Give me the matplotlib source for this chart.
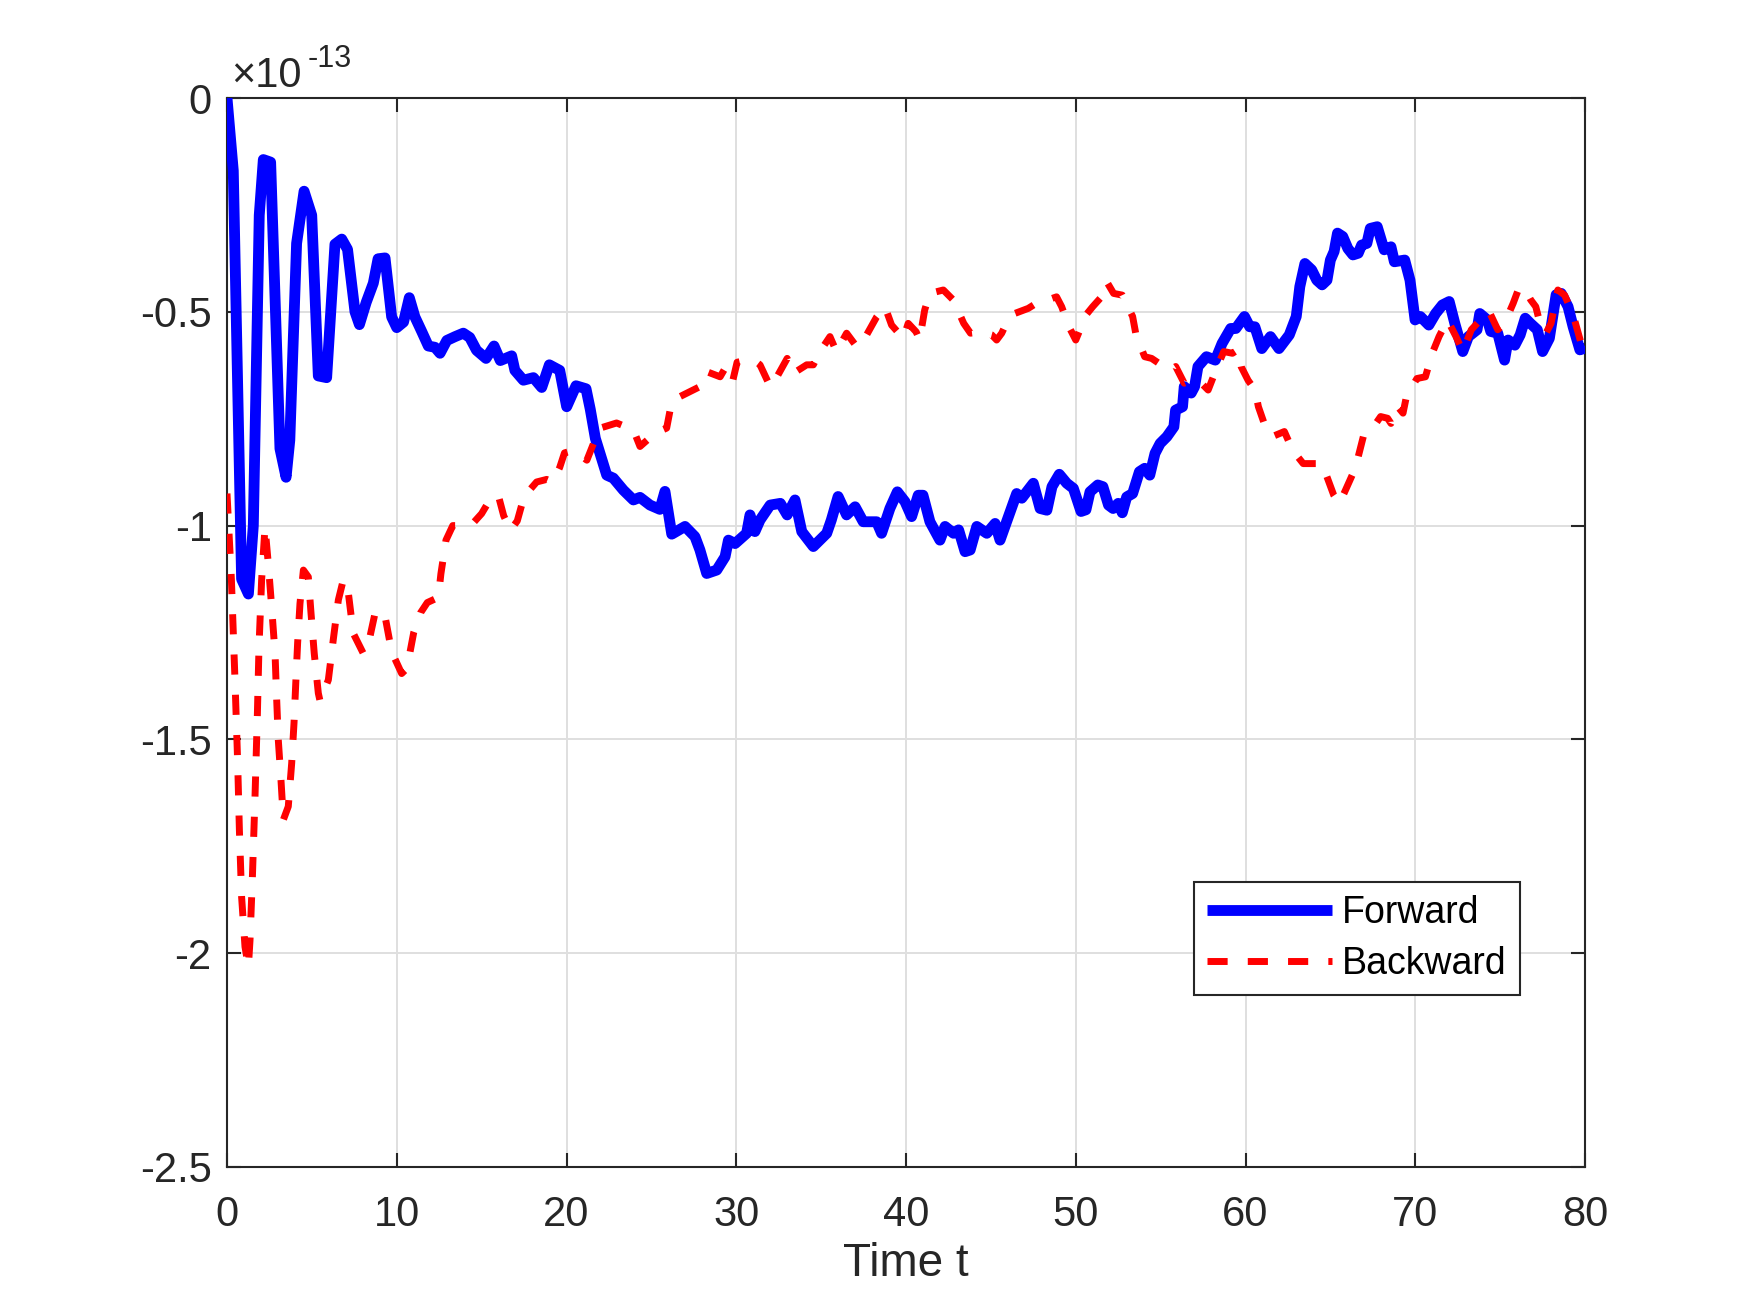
import matplotlib
matplotlib.use("Agg")
import matplotlib.pyplot as plt

# values are in units of 1e-13
t_fwd = [0, 0.37, 0.86, 1.26, 1.55, 1.9, 2.14, 2.57, 2.8, 3.12,
         3.48, 3.7, 4.1, 4.54, 4.99, 5.38, 5.87, 6.36, 6.76, 7.1,
         7.54, 7.8, 8.2, 8.62, 8.9, 9.31, 9.7, 10.0, 10.4, 10.74,
         11.07, 11.47, 11.86, 12.25, 12.55, 12.95, 13.44, 13.92, 14.3, 14.7,
         15.26, 15.73, 16.1, 16.77, 16.96, 17.46, 18.05, 18.54, 18.99, 19.6,
         20.01, 20.56, 21.15, 21.4, 21.7, 22.37, 22.76, 23.35, 23.94, 24.33,
         24.92, 25.5, 25.8, 26.2, 26.98, 27.57, 27.86, 28.26, 28.85, 29.34,
         29.54, 29.93, 30.61, 30.81, 31.1, 31.4, 32.0, 32.6, 33.0, 33.46,
         33.86, 34.54, 35.33, 35.6, 36.0, 36.5, 37.0, 37.48, 38.27, 38.56,
         39.05, 39.49, 39.94, 40.33, 40.72, 41.0, 41.41, 42.0, 42.3, 42.8,
         43.1, 43.48, 43.78, 44.17, 44.76, 45.25, 45.54, 46.13, 46.52, 46.82,
         47.5, 47.9, 48.3, 48.6, 49.03, 49.47, 49.86, 50.31, 50.6, 50.84,
         51.3, 51.6, 51.93, 52.2, 52.5, 52.74, 53.0, 53.35, 53.75, 54.06,
         54.36, 54.67, 54.97, 55.37, 55.78, 55.88, 56.29, 56.39, 56.8, 57.0,
         57.2, 57.7, 58.22, 58.62, 59.13, 59.43, 59.94, 60.25, 60.55, 60.96,
         61.47, 61.97, 62.58, 62.99, 63.2, 63.5, 63.9, 64.2, 64.51, 64.8,
         65.0, 65.22, 65.42, 65.73, 66.03, 66.33, 66.64, 66.84, 67.15, 67.35,
         67.76, 68.17, 68.57, 68.77, 69.38, 69.69, 69.99, 70.3, 70.5, 70.8,
         71.2, 71.6, 72.0, 72.33, 72.8, 73.13, 73.64, 73.8, 74.25, 74.45,
         74.86, 75.26, 75.47, 75.87, 76.18, 76.48, 76.78, 77.19, 77.5, 77.9,
         78.3, 78.6, 79.0, 79.3, 79.7, 80.0]
forward = [0, -0.17, -1.125, -1.16, -1.0, -0.274, -0.144, -0.15, -0.43, -0.82,
           -0.887, -0.80, -0.34, -0.218, -0.274, -0.65, -0.654, -0.342, -0.33, -0.354,
           -0.50, -0.53, -0.478, -0.433, -0.376, -0.374, -0.512, -0.537, -0.524, -0.467,
           -0.512, -0.546, -0.58, -0.583, -0.597, -0.567, -0.558, -0.55, -0.56, -0.59,
           -0.609, -0.58, -0.614, -0.603, -0.637, -0.66, -0.654, -0.677, -0.624, -0.637,
           -0.722, -0.673, -0.68, -0.728, -0.796, -0.882, -0.889, -0.917, -0.94, -0.934,
           -0.952, -0.962, -0.92, -1.02, -1.002, -1.026, -1.057, -1.112, -1.104, -1.073,
           -1.034, -1.042, -1.018, -0.975, -1.014, -0.987, -0.952, -0.948, -0.975, -0.94,
           -1.014, -1.049, -1.018, -0.987, -0.932, -0.975, -0.956, -0.991, -0.991, -1.018,
           -0.96, -0.921, -0.944, -0.979, -0.929, -0.929, -0.991, -1.034, -1.002, -1.018,
           -1.01, -1.061, -1.057, -1.002, -1.018, -0.995, -1.034, -0.968, -0.925, -0.936,
           -0.901, -0.96, -0.964, -0.909, -0.88, -0.901, -0.913, -0.967, -0.963, -0.921,
           -0.905, -0.909, -0.952, -0.96, -0.948, -0.97, -0.933, -0.925, -0.874, -0.866,
           -0.882, -0.831, -0.808, -0.792, -0.769, -0.73, -0.722, -0.675, -0.69, -0.675,
           -0.628, -0.605, -0.613, -0.574, -0.539, -0.539, -0.511, -0.535, -0.535, -0.586,
           -0.558, -0.586, -0.554, -0.511, -0.441, -0.387, -0.402, -0.426, -0.437, -0.426,
           -0.379, -0.359, -0.316, -0.324, -0.352, -0.367, -0.363, -0.344, -0.34, -0.305,
           -0.301, -0.355, -0.348, -0.383, -0.379, -0.426, -0.519, -0.511, -0.519, -0.531,
           -0.504, -0.484, -0.476, -0.527, -0.593, -0.558, -0.542, -0.504, -0.519, -0.546,
           -0.55, -0.613, -0.566, -0.578, -0.554, -0.515, -0.527, -0.542, -0.593, -0.562,
           -0.46, -0.457, -0.488, -0.535, -0.589, -0.585]

t_bwd = [0, 0.26, 0.47, 0.63, 0.73, 0.86, 1.06, 1.26, 1.355, 1.49,
         1.65, 1.79, 1.885, 2.04, 2.24, 2.43, 2.63, 2.83, 2.92, 3.02,
         3.18, 3.32, 3.61, 3.81, 3.95, 4.05, 4.16, 4.3, 4.5, 4.79,
         4.95, 5.14, 5.38, 5.48, 5.97, 6.26, 6.56, 6.85, 7.15, 7.44,
         8.03, 8.42, 8.72, 9.01, 9.3, 9.7, 10.29, 10.6, 11.0, 11.4,
         11.8, 12.45, 12.6, 12.9, 13.3, 13.9, 14.5, 15.0, 15.6, 16.0,
         16.3, 16.7, 17.1, 17.5, 18.24, 18.83, 19.2, 19.6, 19.88, 20.4,
         21.2, 21.6, 21.9, 22.95, 23.94, 24.33, 25.21, 25.9, 26.2, 26.7,
         27.86, 28.26, 29.05, 29.4, 29.8, 30.05, 30.6, 31.0, 31.4, 32.0,
         32.4, 33.0, 33.36, 34.15, 34.54, 34.93, 35.52, 35.9, 36.5, 37.1,
         37.68, 38.27, 38.76, 39.15, 39.84, 40.13, 40.6, 40.8, 41.1, 41.4,
         42.2, 42.8, 43.4, 43.8, 44.4, 45.05, 45.34, 45.64, 46.0, 46.4,
         47.2, 47.8, 48.3, 48.87, 49.17, 49.6, 50.0, 50.61, 51.0, 51.52,
         51.83, 52.23, 52.74, 53.35, 53.55, 54.06, 54.47, 55.18, 55.58, 55.89,
         56.39, 56.8, 57.4, 57.8, 58.3, 58.72, 59.23, 59.54, 59.74, 60.15,
         60.56, 60.76, 61.17, 61.57, 62.29, 62.6, 63.0, 63.4, 64.5, 64.8,
         65.2, 65.52, 65.8, 66.33, 66.64, 66.94, 67.35, 67.96, 68.37, 68.57,
         68.97, 69.28, 69.48, 70.1, 70.6, 71.0, 71.4, 71.9, 72.4, 72.8,
         73.3, 73.84, 74.35, 74.86, 75.26, 75.77, 76.1, 76.5, 76.8, 77.1,
         77.4, 77.7, 78.0, 78.4, 78.8, 79.3, 79.8, 80.0]
backward = [-0.925, -1.127, -1.361, -1.556, -1.712, -1.868, -1.985, -2.032, -1.97, -1.829,
            -1.634, -1.44, -1.283, -1.127, -1.003, -1.088, -1.19, -1.299, -1.4, -1.5,
            -1.595, -1.688, -1.657, -1.556, -1.46, -1.369, -1.275, -1.182, -1.104, -1.12,
            -1.205, -1.299, -1.392, -1.41, -1.361, -1.267, -1.174, -1.127, -1.158, -1.252,
            -1.299, -1.26, -1.205, -1.198, -1.21, -1.295, -1.346, -1.334, -1.25, -1.204,
            -1.18, -1.168, -1.113, -1.034, -1.0, -1.0, -0.994, -0.972, -0.932, -0.932,
            -0.977, -1.011, -0.989, -0.932, -0.898, -0.892, -0.898, -0.864, -0.83, -0.824,
            -0.847, -0.807, -0.773, -0.76, -0.776, -0.815, -0.784, -0.772, -0.71, -0.698,
            -0.675, -0.64, -0.652, -0.628, -0.66, -0.618, -0.613, -0.612, -0.624, -0.675,
            -0.652, -0.609, -0.644, -0.624, -0.624, -0.593, -0.558, -0.593, -0.55, -0.582,
            -0.554, -0.512, -0.488, -0.531, -0.562, -0.527, -0.547, -0.566, -0.496, -0.457,
            -0.449, -0.473, -0.527, -0.55, -0.547, -0.554, -0.566, -0.55, -0.519, -0.504,
            -0.492, -0.477, -0.473, -0.465, -0.488, -0.535, -0.566, -0.507, -0.488, -0.465,
            -0.43, -0.457, -0.461, -0.511, -0.554, -0.605, -0.609, -0.628, -0.636, -0.628,
            -0.667, -0.66, -0.667, -0.683, -0.632, -0.593, -0.597, -0.589, -0.628, -0.66,
            -0.683, -0.722, -0.769, -0.792, -0.78, -0.808, -0.835, -0.855, -0.855, -0.886,
            -0.929, -0.948, -0.925, -0.878, -0.839, -0.792, -0.78, -0.745, -0.749, -0.761,
            -0.722, -0.737, -0.698, -0.656, -0.652, -0.597, -0.558, -0.519, -0.558, -0.593,
            -0.542, -0.519, -0.499, -0.542, -0.527, -0.48, -0.445, -0.449, -0.472, -0.488,
            -0.535, -0.55, -0.527, -0.449, -0.461, -0.507, -0.578, -0.585]

x_ticks = [0, 10, 20, 30, 40, 50, 60, 70, 80]
y_ticks = [0, -0.5, -1, -1.5, -2, -2.5]
y_tick_labels = ['0', '-0.5', '-1', '-1.5', '-2', '-2.5']

plt.rcParams['font.family'] = ['Liberation Sans', 'DejaVu Sans']
plt.rcParams['axes.unicode_minus'] = False

axis_col = '#262626'

fig = plt.figure(figsize=(17.5, 12.89), dpi=100)
ax = fig.add_axes([227/1750, 122/1289, 1358/1750, 1069/1289])

ax.plot(t_fwd, forward, color='#0000ff', lw=7.8, solid_joinstyle='round',
        solid_capstyle='butt', label='Forward', zorder=3)
ax.plot(t_bwd, backward, color='#ff0000', lw=5.0, linestyle=(0, (2.9, 2.9)),
        dash_capstyle='butt', dash_joinstyle='round', label='Backward', zorder=3)

ax.set_xlim(0, 80)
ax.set_ylim(-2.5, 0)
ax.set_xticks(x_ticks)
ax.set_yticks(y_ticks)
ax.set_yticklabels(y_tick_labels)
ax.grid(True, color='#dfdfdf', lw=1.4)
ax.set_axisbelow(True)

for s in ax.spines.values():
    s.set_color(axis_col)
    s.set_linewidth(1.5)
ax.tick_params(axis='both', direction='in', length=9.8, width=1.5, colors=axis_col,
               labelsize=30, top=True, right=True)
ax.tick_params(axis='x', pad=20.5)
ax.tick_params(axis='y', pad=11)

ax.set_xlabel('Time t', fontsize=33, color=axis_col, labelpad=5)

# exponent label in the MATLAB style
ax.text(0.003, 1.010, '\u00d710', transform=ax.transAxes, fontsize=30,
        color=axis_col, ha='left', va='baseline')
ax.text(0.0595, 1.0293, '-13', transform=ax.transAxes, fontsize=22,
        color=axis_col, ha='left', va='baseline')

leg = ax.legend(loc='lower right', bbox_to_anchor=(0.952, 0.161), borderaxespad=0,
                fontsize=27, handlelength=3.34, handletextpad=0.27, labelspacing=0.39,
                borderpad=0.35, fancybox=False, framealpha=1, edgecolor=axis_col)
leg.get_frame().set_linewidth(1.5)

fig.savefig('out.png', dpi=100)
plt.close(fig)
